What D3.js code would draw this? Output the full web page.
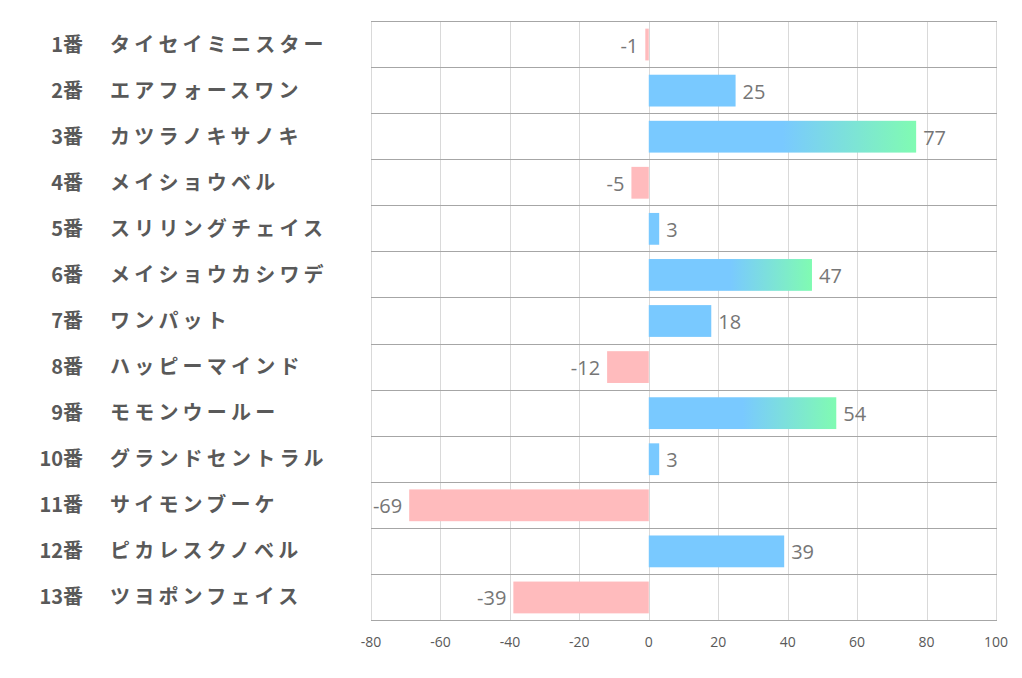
<!DOCTYPE html>
<html><head><meta charset="utf-8">
<script src="https://cdn.jsdelivr.net/npm/d3@7"></script>
<style>
body{margin:0;background:#fff;}
svg{display:block;}
</style></head>
<body>
<svg id="chart" width="1022" height="678"></svg>
<script>
const numbers = ["1番","2番","3番","4番","5番","6番","7番","8番","9番","10番","11番","12番","13番"];
const names = ["タイセイミニスター","エアフォースワン","カツラノキサノキ","メイショウベル","スリリングチェイス","メイショウカシワデ","ワンパット","ハッピーマインド","モモンウールー","グランドセントラル","サイモンブーケ","ピカレスクノベル","ツヨポンフェイス"];
const values = [-1,25,77,-5,3,47,18,-12,54,3,-69,39,-39];
const tickValues = [-80,-60,-40,-20,0,20,40,60,80,100];

(function(){
const svg = d3.select("#chart");
const pl = 371, pr = 996, pt = 21, pb = 620;
const x = d3.scaleLinear().domain([-80,100]).range([pl,pr]);
const y = d3.scaleBand().domain(numbers).range([pt,pb]).padding(0);
const data = numbers.map((n,i)=>({n, name:names[i], v:values[i]}));

const defs = svg.append("defs");
const grad = defs.append("linearGradient").attr("id","g1").attr("x1","0").attr("x2","1").attr("y1","0").attr("y2","0");
grad.append("stop").attr("offset","0").attr("stop-color","#79c9ff");
grad.append("stop").attr("offset","0.5").attr("stop-color","#79c9ff");
grad.append("stop").attr("offset","1").attr("stop-color","#80fbb2");

// vertical gridlines
svg.append("g").selectAll("line").data(tickValues).join("line")
  .attr("x1",d=>Math.round(x(d))+0.5).attr("x2",d=>Math.round(x(d))+0.5)
  .attr("y1",pt).attr("y2",pb)
  .attr("stroke","#d9d9d9").attr("stroke-width",1);

// horizontal lines
const hb = numbers.map(n=>y(n)).concat([pb]);
svg.append("g").selectAll("line").data(hb).join("line")
  .attr("x1",pl).attr("x2",x(100)+1)
  .attr("y1",d=>Math.round(d)+0.5).attr("y2",d=>Math.round(d)+0.5)
  .attr("stroke","#a6a6a6").attr("stroke-width",1);

// bars
const bh = y.bandwidth()*0.69;
svg.append("g").selectAll("rect").data(data).join("rect")
  .attr("x",d=>x(Math.min(0,d.v)))
  .attr("width",d=>Math.abs(x(d.v)-x(0)))
  .attr("y",d=>y(d.n)+(y.bandwidth()-bh)/2+0.5)
  .attr("height",bh)
  .attr("fill",d=>d.v<0?"#ffbbbd":(d.v>40?"url(#g1)":"#79c9ff"));

// value labels
svg.append("g").selectAll("text").data(data).join("text")
  .attr("x",d=>d.v<0?x(d.v)-7:x(d.v)+7)
  .attr("y",d=>y(d.n)+y.bandwidth()/2+1)
  .attr("text-anchor",d=>d.v<0?"end":"start")
  .attr("dominant-baseline","central")
  .attr("font-family","'Open Sans','Noto Sans',sans-serif")
  .attr("font-size",20)
  .attr("fill","#767676")
  .text(d=>d.v);

// x axis tick labels
svg.append("g").selectAll("text").data(tickValues).join("text")
  .attr("x",d=>x(d)).attr("y",641)
  .attr("text-anchor","middle").attr("dominant-baseline","central")
  .attr("font-family","'Open Sans','Noto Sans',sans-serif")
  .attr("font-size",14).attr("fill","#595959")
  .text(d=>d);

// row labels
const lab = svg.append("g");
lab.selectAll("text.num").data(data).join("text").attr("class","num")
  .attr("x",83).attr("y",d=>y(d.n)+y.bandwidth()/2-1)
  .attr("text-anchor","end").attr("dominant-baseline","central")
  .attr("font-family","'Noto Sans CJK JP',sans-serif").attr("font-weight","bold")
  .attr("font-size",20).attr("fill","#595959")
  .text(d=>d.n);
lab.selectAll("text.name").data(data).join("text").attr("class","name")
  .attr("x",110).attr("y",d=>y(d.n)+y.bandwidth()/2-1)
  .attr("text-anchor","start").attr("dominant-baseline","central")
  .attr("font-family","'Noto Sans CJK JP',sans-serif").attr("font-weight","bold")
  .attr("font-size",20).attr("letter-spacing","4.2px").attr("fill","#595959")
  .text(d=>d.name);
})();
</script>
</body></html>
